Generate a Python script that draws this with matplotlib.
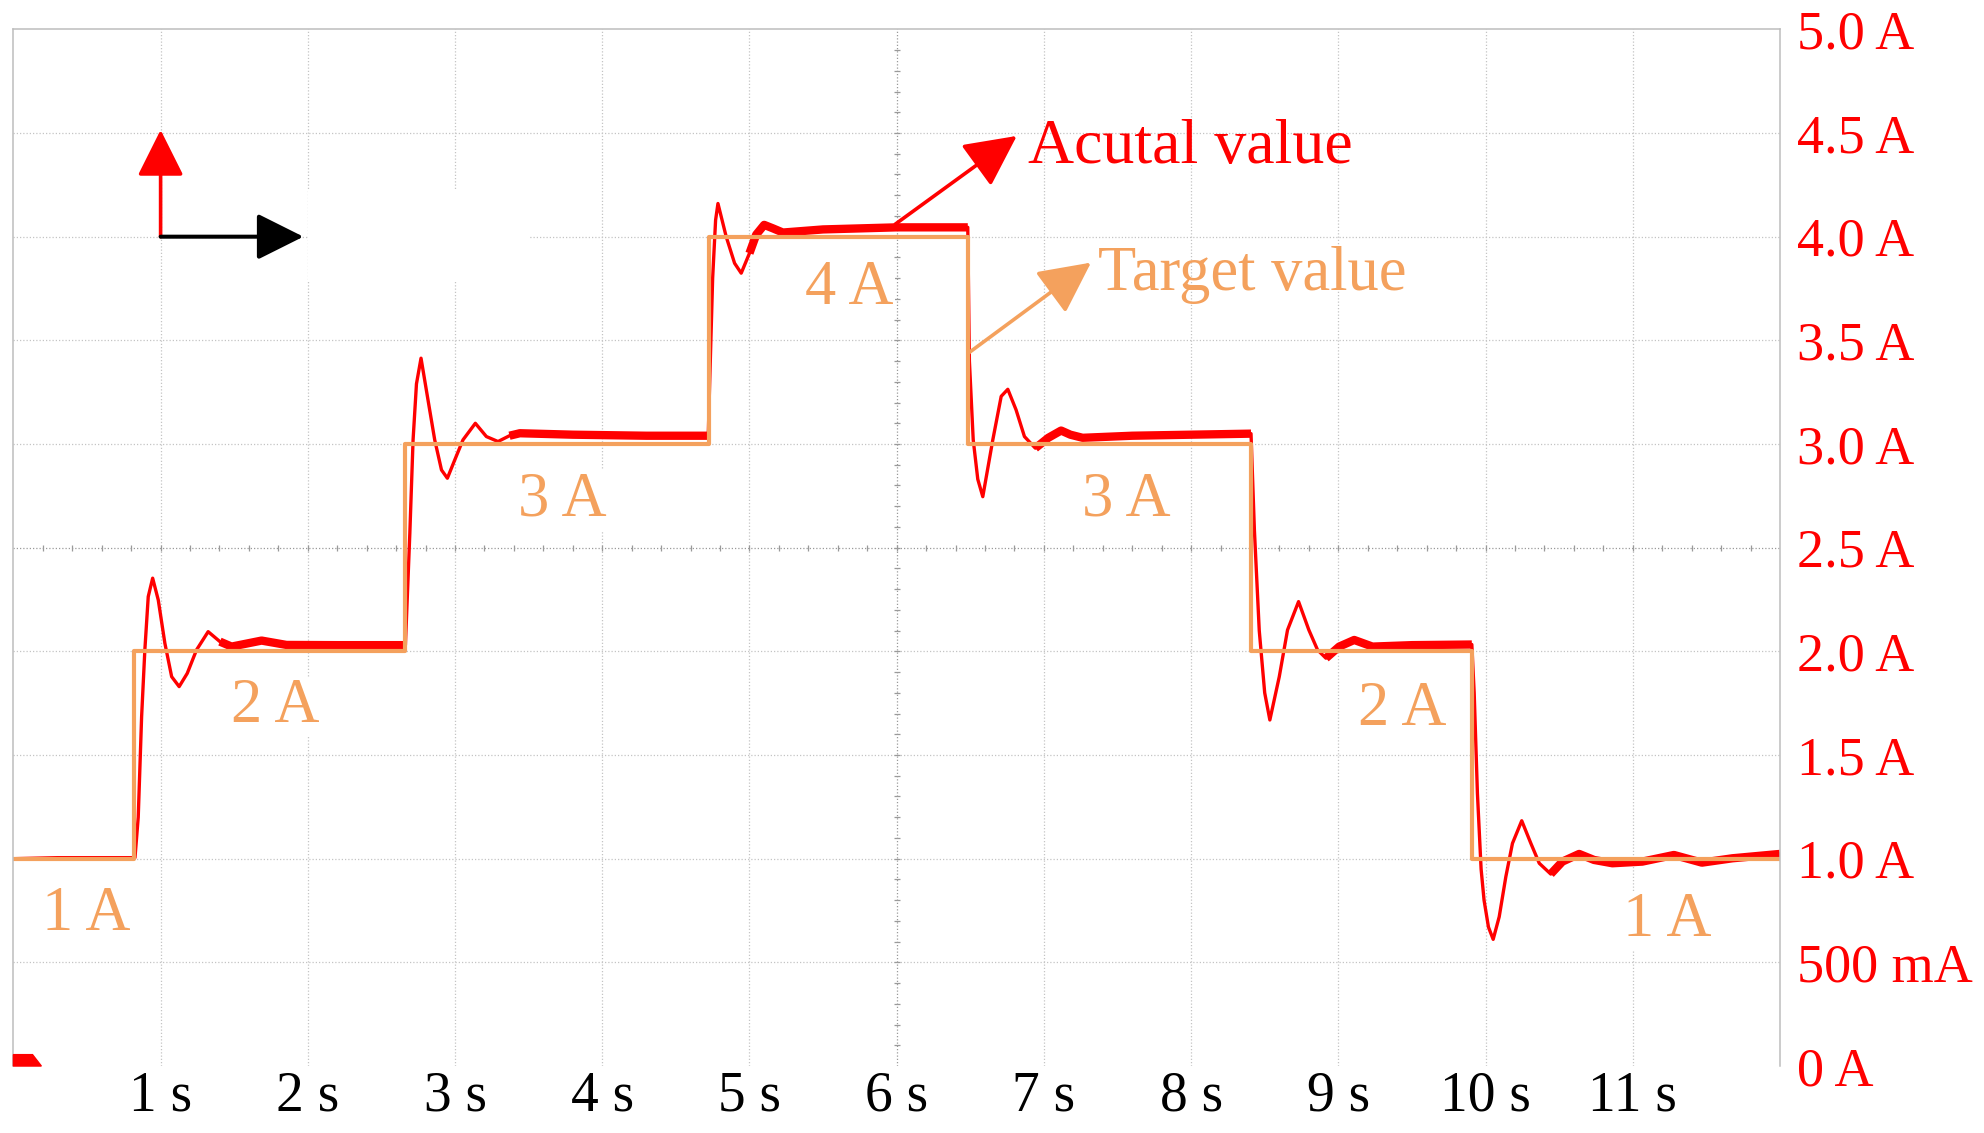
import matplotlib
matplotlib.use("Agg")
import matplotlib.pyplot as plt
import numpy as np
from matplotlib.patches import Polygon, Rectangle

plt.rcParams["font.family"] = ["Liberation Serif", "DejaVu Serif"]

# Target current (step set-points)
target_t = [0.0, 0.821, 2.663, 4.724, 6.483, 8.407, 9.907, 12.02]
target_i = [1.0, 2.0, 3.0, 4.0, 3.0, 2.0, 1.0, 1.0]

actual_t = [0.0, 0.30, 0.60, 0.826, 0.848, 0.871, 0.893, 0.916, 0.946, 0.984,
            1.029, 1.075, 1.126, 1.181, 1.244, 1.323, 1.403, 1.482, 1.686, 1.855,
            2.20, 2.50, 2.663, 2.693, 2.715, 2.738, 2.769, 2.817, 2.862, 2.908,
            2.948, 2.998, 3.054, 3.138, 3.213, 3.292, 3.37, 3.44, 3.80, 4.30,
            4.72, 4.73, 4.75, 4.77, 4.786, 4.842, 4.899, 4.944, 5.00, 5.046,
            5.10, 5.16, 5.227, 5.50, 6.00, 6.483, 6.494, 6.52, 6.551, 6.585,
            6.653, 6.71, 6.755, 6.811, 6.868, 6.942, 7.03, 7.117, 7.18, 7.263,
            7.60, 8.00, 8.407, 8.43, 8.463, 8.50, 8.535, 8.599, 8.655, 8.73,
            8.80, 8.859, 8.916, 9.006, 9.108, 9.232, 9.50, 9.907, 9.923, 9.945,
            9.97, 9.99, 10.02, 10.052, 10.093, 10.138, 10.183, 10.246, 10.308, 10.365,
            10.443, 10.522, 10.636, 10.737, 10.862, 11.065, 11.28, 11.47, 11.677, 12.0]
actual_i = [1.0, 1.005, 1.005, 1.005, 1.20, 1.685, 2.007, 2.264, 2.353, 2.248,
            2.039, 1.878, 1.83, 1.894, 2.007, 2.095, 2.047, 2.023, 2.052, 2.031,
            2.03, 2.03, 2.03, 2.57, 3.02, 3.29, 3.414, 3.21, 3.02, 2.875,
            2.835, 2.923, 3.02, 3.10, 3.036, 3.012, 3.04, 3.052, 3.045, 3.04,
            3.04, 3.30, 3.80, 4.08, 4.16, 4.0, 3.872, 3.824, 3.92, 4.01,
            4.057, 4.04, 4.02, 4.035, 4.045, 4.045, 3.40, 3.02, 2.83, 2.746,
            3.02, 3.23, 3.264, 3.165, 3.036, 2.98, 3.03, 3.065, 3.045, 3.03,
            3.04, 3.045, 3.05, 2.585, 2.10, 1.80, 1.669, 1.878, 2.103, 2.24,
            2.103, 2.007, 1.967, 2.023, 2.055, 2.023, 2.03, 2.033, 1.80, 1.315,
            0.95, 0.80, 0.67, 0.611, 0.72, 0.913, 1.074, 1.183, 1.074, 0.978,
            0.926, 0.986, 1.023, 0.994, 0.978, 0.986, 1.018, 0.981, 1.002, 1.023]

# Steady-state stretches where the trace shows a thick noise band
band_start = [1.40, 3.30, 5.00, 6.87, 8.90, 10.40]
band_end = [2.663, 4.72, 6.483, 8.407, 9.907, 12.0]

# Set-point labels
level_labels = ["1 A", "2 A", "3 A", "4 A", "3 A", "2 A", "1 A"]
level_label_t = [0.497, 1.776, 3.727, 5.677, 7.559, 9.432, 11.232]
level_label_i = [0.655, 1.66, 2.655, 3.675, 2.655, 1.645, 0.628]

x_ticks = list(range(1, 12))
x_tick_labels = [f"{v} s" for v in x_ticks]
y_ticks = [0, 0.5, 1.0, 1.5, 2.0, 2.5, 3.0, 3.5, 4.0, 4.5, 5.0]
y_tick_labels = ["0 A", "500 mA", "1.0 A", "1.5 A", "2.0 A", "2.5 A",
                 "3.0 A", "3.5 A", "4.0 A", "4.5 A", "5.0 A"]

RED = "#FF0000"
ORANGE = "#F4A15D"
GRID = "#C4C4C4"
CENTER = "#9A9A9A"

fig = plt.figure(figsize=(19.84, 11.33), dpi=100)
ax = fig.add_axes([0.00675, 0.0591, 0.8904, 0.9150])
ax.set_xlim(0, 12)
ax.set_ylim(0, 5)

# scope-style dotted graticule
dot = (0, (1, 1.6))
for xv in range(1, 12):
    ax.axvline(xv, color=CENTER if xv == 6 else GRID, lw=0.9, ls=dot, zorder=0.5)
for yv in np.arange(0.5, 5.0, 0.5):
    ax.axhline(yv, color=CENTER if yv == 2.5 else GRID, lw=0.9, ls=dot, zorder=0.5)
yy = np.arange(0.1, 5.0, 0.1)
ax.plot(np.full(len(yy), 6.0), yy, ls="none", marker="_", ms=5, mew=0.9,
        color=CENTER, zorder=0.6)
xx = np.arange(0.2, 12.0, 0.2)
ax.plot(xx, np.full(len(xx), 2.5), ls="none", marker="|", ms=5, mew=0.9,
        color=CENTER, zorder=0.6)

# erased patch of graticule (left over from the screenshot)
ax.add_patch(Rectangle((2.0, 3.78), 1.5, 0.45, facecolor="white",
                       edgecolor="none", zorder=0.7))

# measured trace
at = np.array(actual_t)
ai = np.array(actual_i)
ax.plot(at, ai, color=RED, lw=2.4, zorder=2, solid_joinstyle="round")
for a, b in zip(band_start, band_end):
    m = (at >= a) & (at <= b)
    ax.plot(at[m], ai[m], color=RED, lw=6.0, solid_capstyle="butt",
            solid_joinstyle="round", zorder=2)

# target steps
ax.plot(target_t, target_i, color=ORANGE, lw=3.0, drawstyle="steps-post", zorder=2.2)

for lab, tx, ty in zip(level_labels, level_label_t, level_label_i):
    ax.text(tx, ty, lab, color=ORANGE, fontsize=45, ha="center", va="baseline",
            zorder=1.5, bbox=dict(facecolor="white", edgecolor="none", pad=1))

# axis direction arrows
head = "-|>,head_length=0.8,head_width=0.4"
ax.annotate("", xy=(1.0, 4.515), xytext=(1.0, 4.0),
            arrowprops=dict(arrowstyle=head, color=RED, lw=2.6,
                            mutation_scale=36, shrinkA=0, shrinkB=0))
ax.annotate("", xy=(1.97, 4.0), xytext=(1.0, 4.0),
            arrowprops=dict(arrowstyle=head, color="black", lw=2.9,
                            mutation_scale=36, shrinkA=0, shrinkB=0))

# callouts
ax.annotate("", xy=(6.816, 4.486), xytext=(5.99, 4.06),
            arrowprops=dict(arrowstyle=head, color=RED, lw=2.6,
                            mutation_scale=40, shrinkA=0, shrinkB=0), zorder=3)
ax.text(6.89, 4.356, "Acutal value", color=RED, fontsize=46, ha="left", va="baseline")
ax.annotate("", xy=(7.32, 3.875), xytext=(6.49, 3.44),
            arrowprops=dict(arrowstyle=head, color=ORANGE, lw=2.6,
                            mutation_scale=40, shrinkA=0, shrinkB=0), zorder=3)
ax.text(7.37, 3.743, "Target value", color=ORANGE, fontsize=45, ha="left", va="baseline")

# channel marker in the corner
ax.add_patch(Polygon([(0, 0), (0, 0.055), (0.13, 0.055), (0.19, 0)], closed=True,
                     color=RED, clip_on=False, zorder=3))

ax.set_xticks(x_ticks)
ax.set_xticklabels(x_tick_labels, fontsize=40)
ax.yaxis.tick_right()
ax.set_yticks(y_ticks)
ax.set_yticklabels(y_tick_labels, fontsize=39, color=RED)
ax.tick_params(axis="x", length=0, pad=3)
ax.tick_params(axis="y", length=0, pad=12)

ax.spines["bottom"].set_visible(False)
for s in ["left", "top", "right"]:
    ax.spines[s].set_color("#BDBDBD")
    ax.spines[s].set_linewidth(1.1)

fig.savefig("out.png", dpi=100)
